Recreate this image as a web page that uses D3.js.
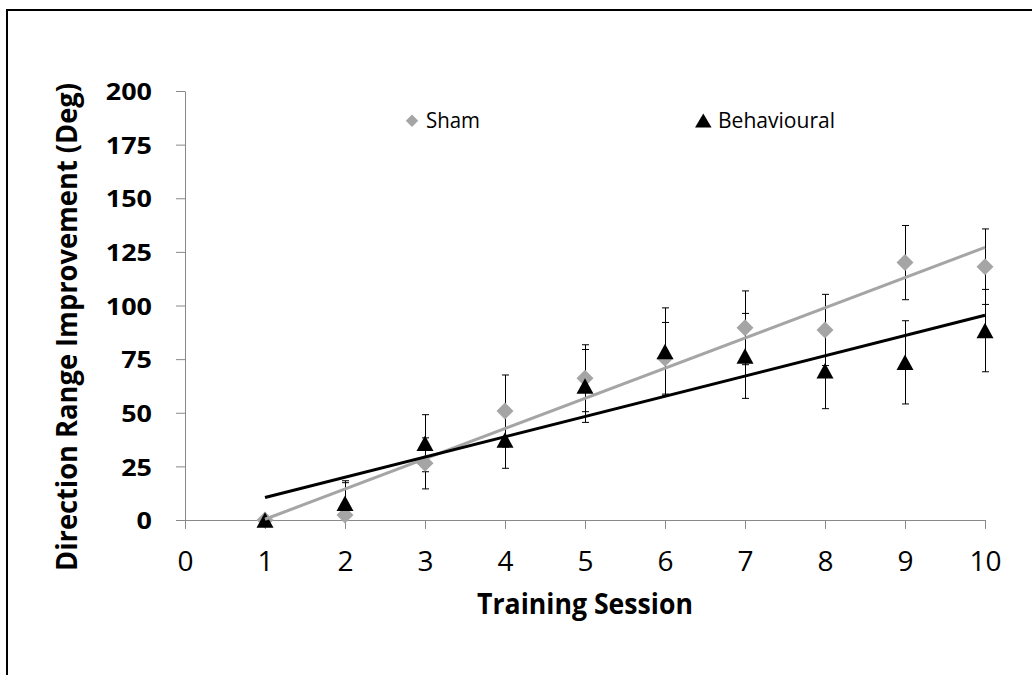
<!DOCTYPE html>
<html>
<head>
<meta charset="utf-8">
<script src="https://cdn.jsdelivr.net/npm/d3@7"></script>
<style>
  html, body { margin: 0; padding: 0; background: #ffffff; }
  svg { display: block; }
</style>
</head>
<body>
<svg id="chart" width="1032" height="675"></svg>
<script>
// ---- data ----
const sessions = [1, 2, 3, 4, 5, 6, 7, 8, 9, 10];
const shamValues = [0, 2.3, 26.4, 50.8, 66.1, 75.4, 89.6, 88.6, 120, 118.1];
const shamErrors = [0, 16, 11.9, 16.8, 15.6, 16.7, 17.2, 16.6, 17.3, 17.6];
const behaviouralValues = [0, 7.8, 35.8, 37.3, 62.5, 78.5, 76.5, 69.6, 73.5, 88.3];
const behaviouralErrors = [0, 9.6, 13.3, 13.2, 17, 20.4, 19.8, 17.7, 19.4, 19.2];
const xTicks = [0, 1, 2, 3, 4, 5, 6, 7, 8, 9, 10];
const yTicks = [0, 25, 50, 75, 100, 125, 150, 175, 200];
const seriesNames = ["Sham", "Behavioural"];
const xTitle = "Training Session";
const yTitle = "Direction Range Improvement (Deg)";

// ---- styles ----
const FONT = "'Open Sans', 'Noto Sans', sans-serif";
const GREY = "#a5a5a5";
const AXIS = "#898989";

const svg = d3.select("#chart");

// outer frame
svg.append("rect")
  .attr("x", 7).attr("y", 10)
  .attr("width", 1200).attr("height", 800)
  .attr("fill", "none").attr("stroke", "#000").attr("stroke-width", 2);

const x = d3.scaleLinear().domain([0, 10]).range([185, 985]);
const y = d3.scaleLinear().domain([0, 200]).range([520, 91]);

// clip to plot area (error bars are clipped at axis minimum like the original)
svg.append("defs").append("clipPath").attr("id", "plotclip")
  .append("rect").attr("x", 150).attr("y", 60).attr("width", 880).attr("height", y(0) - 60 + 0.5);

// ---- axes ----
const yAxis = d3.axisLeft(y).tickValues(yTicks).tickSize(9).tickSizeOuter(0).tickPadding(24);
const gy = svg.append("g").attr("transform", `translate(${x(0)},0)`).call(yAxis);
gy.selectAll("path.domain, .tick line").attr("stroke", AXIS);
gy.selectAll("text")
  .attr("font-family", FONT).attr("font-weight", "bold").attr("font-size", 24)
  .attr("fill", "#000")
  .attr("dy", "0.36em")
  .attr("textLength", d => String(d).length * 15.4)
  .attr("lengthAdjust", "spacingAndGlyphs");

const xAxis = d3.axisBottom(x).tickValues(xTicks).tickSize(9).tickSizeOuter(0).tickPadding(22);
const gx = svg.append("g").attr("transform", `translate(0,${y(0)})`).call(xAxis);
gx.selectAll("path.domain, .tick line").attr("stroke", AXIS);
gx.selectAll("text")
  .attr("font-family", FONT).attr("font-size", 28).attr("fill", "#000");

// axis titles
svg.append("text")
  .attr("x", 585).attr("y", 614)
  .attr("text-anchor", "middle")
  .attr("font-family", FONT).attr("font-weight", "bold").attr("font-size", 29)
  .attr("textLength", 216).attr("lengthAdjust", "spacingAndGlyphs")
  .text(xTitle);

svg.append("text")
  .attr("transform", "translate(77,327) rotate(-90)")
  .attr("text-anchor", "middle")
  .attr("font-family", FONT).attr("font-weight", "bold").attr("font-size", 29)
  .attr("textLength", 488).attr("lengthAdjust", "spacingAndGlyphs")
  .text(yTitle);

// ---- marks ----
const plot = svg.append("g").attr("clip-path", "url(#plotclip)");

function errorBars(values, errors) {
  const g = plot.append("g");
  sessions.forEach((s, i) => {
    if (!errors[i]) return;
    const cx = Math.round(x(s)) + 0.5;
    const top = y(values[i] + errors[i]);
    const bot = y(values[i] - errors[i]);
    g.append("line").attr("x1", cx).attr("x2", cx).attr("y1", top).attr("y2", bot)
      .attr("stroke", "#000").attr("stroke-width", 1);
    [top, bot].forEach(yy => {
      g.append("line").attr("x1", cx - 3.5).attr("x2", cx + 3.5).attr("y1", yy).attr("y2", yy)
        .attr("stroke", "#000").attr("stroke-width", 1);
    });
  });
}

const diamond = (cx, cy, r) => `M${cx},${cy - r}L${cx + r},${cy}L${cx},${cy + r}L${cx - r},${cy}Z`;
const triangle = (cx, cy, w, h) => `M${cx},${cy - h / 2}L${cx + w / 2},${cy + h / 2}L${cx - w / 2},${cy + h / 2}Z`;

// Sham series
errorBars(shamValues, shamErrors);
svg.append("g").selectAll("path").data(sessions).join("path")
  .attr("d", (s, i) => diamond(x(s), y(shamValues[i]), 8.5))
  .attr("fill", GREY);

// Behavioural series
errorBars(behaviouralValues, behaviouralErrors);
svg.append("g").selectAll("path").data(sessions).join("path")
  .attr("d", (s, i) => triangle(x(s), y(behaviouralValues[i]), 17, 15.5))
  .attr("fill", "#000");

// linear trendlines (least squares, from the data)
function fit(vals) {
  const mx = d3.mean(sessions), my = d3.mean(vals);
  let sxy = 0, sxx = 0;
  sessions.forEach((s, i) => { sxy += (s - mx) * (vals[i] - my); sxx += (s - mx) * (s - mx); });
  const b = sxy / sxx, a = my - b * mx;
  return [1, 10].map(s => [s, a + b * s]);
}
const line = d3.line().x(d => x(d[0])).y(d => y(d[1]));
svg.append("path").attr("d", line(fit(shamValues)))
  .attr("fill", "none").attr("stroke", GREY).attr("stroke-width", 3);
svg.append("path").attr("d", line(fit(behaviouralValues)))
  .attr("fill", "none").attr("stroke", "#000").attr("stroke-width", 3);

// ---- legend ----
const lg = svg.append("g");
lg.append("path").attr("d", diamond(412, 120.7, 6.2)).attr("fill", GREY);
lg.append("text").attr("x", 426).attr("y", 128.3)
  .attr("font-family", FONT).attr("font-size", 21).attr("fill", "#000")
  .attr("textLength", 54).attr("lengthAdjust", "spacingAndGlyphs")
  .text(seriesNames[0]);
lg.append("path").attr("d", triangle(703.3, 120.4, 16.5, 14)).attr("fill", "#000");
lg.append("text").attr("x", 718).attr("y", 128.3)
  .attr("font-family", FONT).attr("font-size", 21).attr("fill", "#000")
  .attr("textLength", 117).attr("lengthAdjust", "spacingAndGlyphs")
  .text(seriesNames[1]);
</script>
</body>
</html>
